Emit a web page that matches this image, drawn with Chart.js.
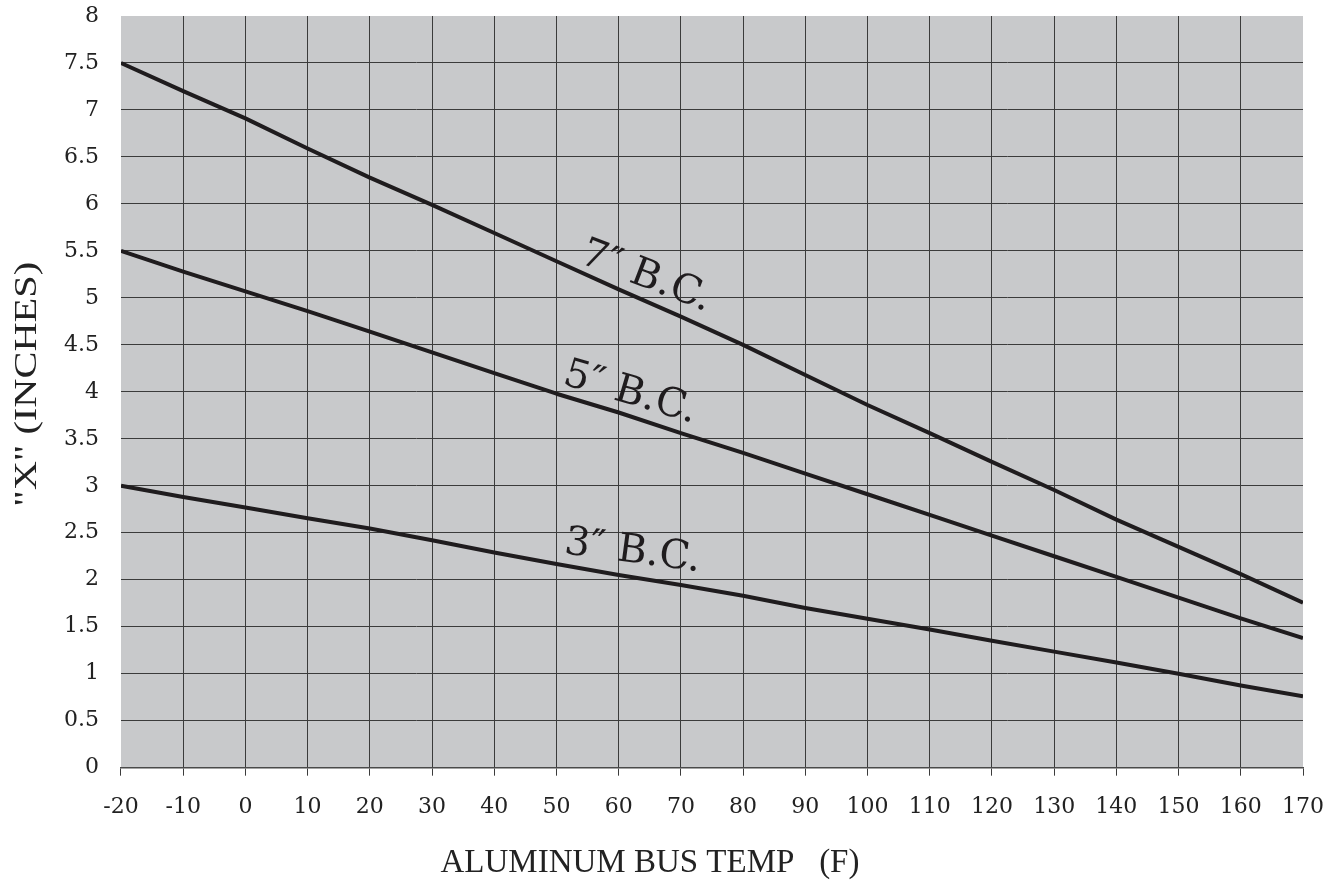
<!DOCTYPE html>
<html>
<head>
<meta charset="utf-8">
<script src="https://cdn.jsdelivr.net/npm/chart.js@4/dist/chart.umd.min.js"></script>
<style>
html,body{margin:0;padding:0;background:#ffffff;}
#wrap{width:1338px;height:880px;}
</style>
</head>
<body>
<div id="wrap"><canvas id="c" width="1338" height="880"></canvas></div>
<script>
// ---- data ----
const temps = [-20,-10,0,10,20,30,40,50,60,70,80,90,100,110,120,130,140,150,160,170];
const bc7 = [7.5,7.2,6.91,6.59,6.28,5.99,5.69,5.39,5.09,4.8,4.5,4.18,3.86,3.56,3.255,2.955,2.64,2.35,2.06,1.755];
const bc5 = [5.5,5.28,5.07,4.86,4.64,4.42,4.2,3.98,3.78,3.56,3.35,3.13,2.91,2.69,2.47,2.25,2.03,1.81,1.59,1.38];
const bc3 = [3.0,2.88,2.77,2.655,2.545,2.42,2.29,2.167,2.05,1.945,1.83,1.70,1.585,1.47,1.35,1.235,1.12,1.0,0.875,0.76];
const seriesNames = ['7\u2033 B.C.','5\u2033 B.C.','3\u2033 B.C.'];
const xTicks = [-20,-10,0,10,20,30,40,50,60,70,80,90,100,110,120,130,140,150,160,170];
const yTicks = [0,0.5,1,1.5,2,2.5,3,3.5,4,4.5,5,5.5,6,6.5,7,7.5,8];
const xTitle = 'ALUMINUM BUS TEMP   (F)';
const yTitle = '"X" (INCHES)';

// ---- label placement (annotation config, data coordinates of baseline start) ----
const labelPlacement = [
  {x:53.5, y:5.38, angle:21},
  {x:50.8, y:4.085, angle:16.5},
  {x:51.1, y:2.283, angle:7.6}
];

const INK = '#1f1c1e';
const GRID = '#3b3b3b';
const TXT = '#222222';

function pts(arr){ return temps.map((t,i)=>({x:t, y:arr[i]})); }

const bgPlugin = {
  id:'plotBg',
  beforeDraw(chart){
    const {ctx, chartArea:a} = chart;
    ctx.save();
    ctx.fillStyle = '#c8c9cb';
    ctx.fillRect(a.left, a.top, a.right-a.left, a.bottom-a.top);
    ctx.restore();
  }
};

const textPlugin = {
  id:'texts',
  afterDraw(chart){
    const {ctx, chartArea:a, scales} = chart;
    const xs = scales.x, ys = scales.y;
    ctx.save();
    ctx.fillStyle = INK;
    ctx.font = '40px "DejaVu Serif"';
    ctx.textAlign = 'left';
    ctx.textBaseline = 'alphabetic';
    labelPlacement.forEach((p,i)=>{
      const px = xs.getPixelForValue(p.x), py = ys.getPixelForValue(p.y);
      ctx.save();
      ctx.translate(px, py);
      ctx.rotate(p.angle*Math.PI/180);
      ctx.fillText(seriesNames[i], 0, 0);
      ctx.restore();
    });
    ctx.restore();

    // x axis title
    ctx.save();
    ctx.fillStyle = TXT;
    ctx.font = '33px "Liberation Serif"';
    ctx.textAlign = 'center';
    ctx.textBaseline = 'alphabetic';
    ctx.fillText(xTitle, (a.left+a.right)/2 - 62, 872);
    ctx.restore();

    // y axis title
    ctx.save();
    ctx.fillStyle = TXT;
    ctx.font = '32px "Liberation Serif"';
    ctx.textAlign = 'center';
    ctx.textBaseline = 'alphabetic';
    const w = ctx.measureText(yTitle).width;
    ctx.translate(36, (a.top+a.bottom)/2 - 7.5);
    ctx.rotate(-Math.PI/2);
    ctx.scale(245/w, 1);
    ctx.fillText(yTitle, 0, 0);
    ctx.restore();
  }
};

const lineStyle = {borderColor:INK, borderWidth:4, pointRadius:0, fill:false, tension:0, borderCapStyle:'butt', borderJoinStyle:'round'};

new Chart(document.getElementById('c'), {
  type:'line',
  data:{
    datasets:[
      Object.assign({label:seriesNames[0], data:pts(bc7)}, lineStyle),
      Object.assign({label:seriesNames[1], data:pts(bc5)}, lineStyle),
      Object.assign({label:seriesNames[2], data:pts(bc3)}, lineStyle)
    ]
  },
  options:{
    responsive:false,
    animation:false,
    devicePixelRatio:1,
    layout:{padding:{left:64, right:35, top:16, bottom:42}},
    plugins:{legend:{display:false}, tooltip:{enabled:false}},
    scales:{
      x:{
        type:'linear', min:-20, max:170,
        afterBuildTicks: s => { s.ticks = xTicks.map(v=>({value:v})); },
        ticks:{font:{family:'DejaVu Serif', size:22, lineHeight:1.56}, color:TXT, padding:14, maxRotation:0, autoSkip:false, callback: v => String(v)},
        grid:{
          color: c => (c.tick && (c.tick.value===-20 || c.tick.value===170)) ? 'rgba(0,0,0,0)' : GRID,
          tickColor: GRID, lineWidth:1, tickLength:8, drawTicks:true
        },
        border:{display:true, color:'#4a4a4a', width:1.5}
      },
      y:{
        type:'linear', min:0, max:8,
        afterBuildTicks: s => { s.ticks = yTicks.map(v=>({value:v})); },
        ticks:{font:{family:'DejaVu Serif', size:22}, color:TXT, padding:0, autoSkip:false, callback: v => String(v)},
        grid:{
          color: c => (c.tick && c.tick.value===8) ? 'rgba(0,0,0,0)' : GRID,
          tickColor:'rgba(0,0,0,0)', lineWidth:1, drawTicks:true, tickLength:22
        },
        border:{display:false}
      }
    }
  },
  plugins:[bgPlugin, textPlugin]
});
</script>
</body>
</html>
